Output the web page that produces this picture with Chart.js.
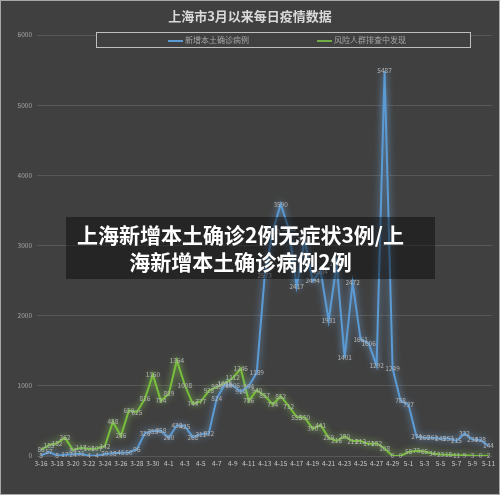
<!DOCTYPE html>
<html>
<head>
<meta charset="utf-8">
<script src="https://cdn.jsdelivr.net/npm/chart.js@4"></script>
<style>
  html, body { margin: 0; padding: 0; background: #404040; }
  #wrap { position: relative; width: 498px; height: 493px; border: 1px solid #a8a8a8; background: #404040; overflow: hidden; }
  #title { position: absolute; left: 0; top: 5px; width: 498px; text-align: center; color: #d9d9d9;
           font: bold 13px "Noto Sans CJK SC", sans-serif; line-height: 20px; }
  #legend { position: absolute; left: 95px; top: 31px; width: 373px; height: 14px; border: 1px solid #bfbfbf;
            background: #404040; font: 8px "Noto Sans CJK SC", sans-serif; color: #a6a6a6; }
  .lg { position: absolute; top: 0; line-height: 14px; white-space: nowrap; }
  .lg i { display: inline-block; width: 15px; height: 2px; vertical-align: middle; margin-right: 2px; }
  #overlay { position: absolute; left: 65px; top: 216px; width: 369px; height: 62px; background: rgba(0,0,0,0.42);
             color: #fff; font: bold 21px "Noto Sans CJK SC", sans-serif; line-height: 27px; text-align: center;
             padding-right: 20px; box-sizing: border-box; padding-top: 4px; }
</style>
</head>
<body>
<div id="wrap">
  <canvas id="c" width="498" height="493"></canvas>
  <div id="title">上海市3月以来每日疫情数据</div>
  <div id="legend">
    <span class="lg" style="left:71px"><i style="background:#5b9bd5"></i>新增本土确诊病例</span>
    <span class="lg" style="left:220px"><i style="background:#70ad47"></i>风险人群排查中发现</span>
  </div>
  <div id="overlay">上海新增本土确诊2例无症状3例/上<br>海新增本土确诊病例2例</div>
</div>
<script>
// dates 3-16 .. 5-11
const dates = [
  '3-16','3-17','3-18','3-19','3-20','3-21','3-22','3-23','3-24','3-25','3-26','3-27','3-28','3-29','3-30','3-31',
  '4-1','4-2','4-3','4-4','4-5','4-6','4-7','4-8','4-9','4-10','4-11','4-12','4-13','4-14','4-15','4-16',
  '4-17','4-18','4-19','4-20','4-21','4-22','4-23','4-24','4-25','4-26','4-27','4-28','4-29','4-30',
  '5-1','5-2','5-3','5-4','5-5','5-6','5-7','5-8','5-9','5-10','5-11'
];
// 新增本土确诊病例
const confirmed = [
  8, 57, 8, 17, 24, 31, 4, 4, 29, 38, 45, 50, 96, 326, 355, 358,
  260, 438, 425, 268, 311, 322, 824, 1015, 1006, 914, 994, 1189, 2573, 3200, 3590, 3238,
  2417, 3084, 2494, 2634, 1931, 2736, 1401, 2472, 1661, 1606, 1292, 5487, 1249, 788,
  727, 274, 260, 261, 245, 253, 215, 322, 234, 228, 144
];
// 风险人群排查中发现
const screened = [
  86, 155, 182, 262, 84, 117, 101, 107, 142, 488, 286, 650, 625, 816, 1160, 784,
  889, 1364, 1008, 744, 777, 928, 985, 1035, 1112, 1246, 786, 940, 857, 734, 852, 712,
  555, 550, 390, 441, 259, 216, 280, 212, 212, 171, 182, 108, 0, 0,
  58, 73, 65, 34, 23, 18, 11, 9, 3, 0, 2
];
const yTicks = [0, 1000, 2000, 3000, 4000, 5000, 6000];

const FONT = '"Noto Sans CJK SC", sans-serif';

// glow under each line
const glow = {
  id: 'glow',
  beforeDatasetDraw(chart, args) {
    const ctx = chart.ctx;
    ctx.save();
    ctx.shadowColor = args.index === 0 ? 'rgba(120,180,240,0.9)' : 'rgba(150,220,90,0.9)';
    ctx.shadowBlur = 7;
  },
  afterDatasetDraw(chart) { chart.ctx.restore(); }
};

// value labels centred on each point
const valueLabels = {
  id: 'valueLabels',
  afterDatasetsDraw(chart) {
    const ctx = chart.ctx;
    ctx.save();
    ctx.font = '6.5px ' + FONT;
    ctx.fillStyle = '#b4b4b4';
    ctx.textAlign = 'center';
    ctx.textBaseline = 'middle';
    chart.data.datasets.forEach(function(ds, i) {
      chart.getDatasetMeta(i).data.forEach(function(pt, j) {
        ctx.fillText(String(ds.data[j]), pt.x, pt.y);
      });
    });
    ctx.restore();
  }
};

new Chart(document.getElementById('c'), {
  type: 'line',
  data: {
    labels: dates,
    datasets: [
      { label: '新增本土确诊病例', data: confirmed, borderColor: '#5b9bd5', borderWidth: 2, pointRadius: 0, tension: 0 },
      { label: '风险人群排查中发现', data: screened, borderColor: '#78bf3c', borderWidth: 2, pointRadius: 0, tension: 0 }
    ]
  },
  options: {
    responsive: false,
    animation: false,
    layout: { padding: { top: 34, right: 0, left: 0, bottom: 0 } },
    plugins: { legend: { display: false }, title: { display: false }, tooltip: { enabled: false } },
    scales: {
      x: {
        offset: true,
        grid: { display: false, drawTicks: false },
        border: { display: false },
        ticks: {
          autoSkip: false, maxRotation: 0, padding: 4, color: '#c8c8c8',
          font: { family: FONT, size: 6.5 },
          callback: function(v, i) { return i % 2 === 0 ? dates[i] : ''; }
        },
        afterFit: function(s) { s.height = 38; }
      },
      y: {
        min: 0, max: 6000,
        afterBuildTicks: function(s) { s.ticks = yTicks.map(function(v) { return { value: v }; }); },
        grid: { color: '#575757', drawTicks: false },
        border: { display: false },
        ticks: {
          padding: 5, color: '#a6a6a6', font: { family: FONT, size: 6.5 },
          callback: function(v) { return String(v); }
        },
        afterFit: function(s) { s.width = 36; }
      }
    }
  },
  plugins: [glow, valueLabels]
});
</script>
</body>
</html>
